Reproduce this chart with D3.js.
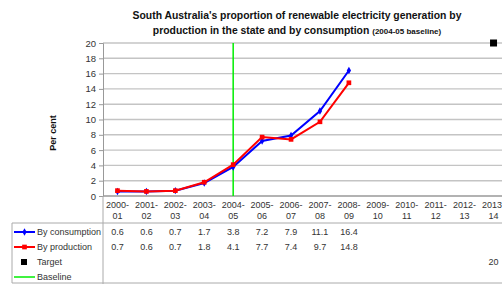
<!DOCTYPE html>
<html><head><meta charset="utf-8">
<script src="https://cdn.jsdelivr.net/npm/d3@7/dist/d3.min.js"></script>
<style>body{margin:0;background:#fff;overflow:hidden;}svg{display:block;font-family:"Liberation Sans",Arial,sans-serif;}</style>
</head><body><svg id="c" width="502" height="284"></svg>
<script>
const categories = ["2000-01","2001-02","2002-03","2003-04","2004-05","2005-06","2006-07","2007-08","2008-09","2009-10","2010-11","2011-12","2012-13","2013-14"];
const consumption = [0.6,0.6,0.7,1.7,3.8,7.2,7.9,11.1,16.4,null,null,null,null,null];
const production = [0.7,0.6,0.7,1.8,4.1,7.7,7.4,9.7,14.8,null,null,null,null,null];
const target = [null,null,null,null,null,null,null,null,null,null,null,null,null,20];
const baselineCategory = "2004-05";
const yTicks = [0,2,4,6,8,10,12,14,16,18,20];
const titleLine1 = "South Australia's proportion of renewable electricity generation by";
const titleLine2 = "production in the state and by consumption";
const titleSub = "(2004-05 baseline)";
const yLabel = "Per cent";

(function(){
const svg = d3.select("#c");
const pL = 103, pR = 508, pT = 43, pB = 196;
const x = d3.scaleBand().domain(categories).range([pL, pR]);
const y = d3.scaleLinear().domain([0, 20]).range([pB, pT]);
const cx = c => x(c) + x.bandwidth() / 2;
const txt = "#333";

// title
svg.append("text").attr("x", 297).attr("y", 19).attr("text-anchor","middle")
  .attr("font-size", 10.4).attr("font-weight","bold").attr("fill","#111").text(titleLine1);
const t2 = svg.append("text").attr("x", 297).attr("y", 34).attr("text-anchor","middle")
  .attr("font-weight","bold").attr("fill","#111");
t2.append("tspan").attr("font-size",10.4).text(titleLine2 + " ");
t2.append("tspan").attr("font-size",8).text(titleSub);

// gridlines
svg.append("g").selectAll("line").data(yTicks).join("line")
  .attr("x1", pL).attr("x2", pR).attr("y1", d => y(d)).attr("y2", d => y(d))
  .attr("stroke", d => d === 0 ? "#999" : "#c4c4c4").attr("stroke-width", 1.4);

// y axis
const ya = svg.append("g").attr("transform", `translate(${pL},0)`)
  .call(d3.axisLeft(y).tickValues(yTicks).tickSize(4).tickPadding(3));
ya.select(".domain").attr("stroke", "#999");
ya.selectAll(".tick line").attr("stroke", "#999");
ya.selectAll("text").attr("font-size", 9.5).attr("fill", txt).attr("font-family","Liberation Sans, Arial, sans-serif");

svg.append("text").attr("transform", `translate(56,133) rotate(-90)`).attr("text-anchor","middle")
  .attr("font-size", 9).attr("font-weight","bold").attr("fill","#111").text(yLabel);

// baseline
svg.append("line").attr("x1", cx(baselineCategory)).attr("x2", cx(baselineCategory))
  .attr("y1", pT).attr("y2", pB).attr("stroke", "#00ee00").attr("stroke-width", 1.5);

// lines
const line = d3.line().defined(d => d.v != null).x(d => cx(d.c)).y(d => y(d.v));
const seriesDefs = [
  {vals: consumption, color: "#0000ff", shape: d3.symbolDiamond, size: 16},
  {vals: production, color: "#ff0000", shape: d3.symbolSquare, size: 22}
];
seriesDefs.forEach(s => {
  const data = categories.map((c, i) => ({c, v: s.vals[i]}));
  svg.append("path").datum(data).attr("d", line).attr("fill","none")
    .attr("stroke", s.color).attr("stroke-width", 2);
  svg.append("g").selectAll("path").data(data.filter(d => d.v != null)).join("path")
    .attr("transform", d => `translate(${cx(d.c)},${y(d.v)})`)
    .attr("d", d3.symbol().type(s.shape).size(s.size)).attr("fill", s.color);
});
// target
svg.append("g").selectAll("rect").data(categories.map((c,i)=>({c, v: target[i]})).filter(d=>d.v!=null)).join("rect")
  .attr("x", d => cx(d.c) - 3.5).attr("y", d => y(d.v) - 3.5).attr("width", 7).attr("height", 7).attr("fill","#000");

// category labels
const cl = svg.append("g").selectAll("text").data(categories).join("text")
  .attr("x", d => cx(d)).attr("text-anchor","middle").attr("font-size", 9).attr("fill", txt);
cl.append("tspan").attr("x", d => cx(d)).attr("y", 208).text(d => d.split("-")[0] + "-");
cl.append("tspan").attr("x", d => cx(d)).attr("y", 219).text(d => d.split("-")[1]);

// table lines
const tl = "#aaa";
svg.append("line").attr("x1", 12).attr("x2", pR).attr("y1", 223).attr("y2", 223).attr("stroke", tl);
svg.append("line").attr("x1", 12).attr("x2", pR).attr("y1", 283).attr("y2", 283).attr("stroke", tl);
svg.append("line").attr("x1", 12).attr("x2", 12).attr("y1", 223).attr("y2", 283).attr("stroke", tl);
svg.append("line").attr("x1", pL).attr("x2", pL).attr("y1", pB).attr("y2", 284).attr("stroke", tl);

// table rows
const rows = [
  {name: "By consumption", vals: consumption, kind: "line", color: "#0000ff", shape: d3.symbolDiamond, size: 16},
  {name: "By production", vals: production, kind: "line", color: "#ff0000", shape: d3.symbolSquare, size: 22},
  {name: "Target", vals: target, kind: "marker", color: "#000"},
  {name: "Baseline", vals: categories.map(() => null), kind: "plain", color: "#00ee00"}
];
rows.forEach((r, i) => {
  const ry = 232 + i * 15;
  if (r.kind === "line" || r.kind === "plain") {
    svg.append("line").attr("x1", 14).attr("x2", 35).attr("y1", ry).attr("y2", ry)
      .attr("stroke", r.color).attr("stroke-width", r.kind === "plain" ? 1.5 : 2);
  }
  if (r.kind === "line") {
    svg.append("path").attr("transform", `translate(24.5,${ry})`)
      .attr("d", d3.symbol().type(r.shape).size(r.size)).attr("fill", r.color);
  }
  if (r.kind === "marker") {
    svg.append("rect").attr("x", 21).attr("y", ry - 3).attr("width", 6).attr("height", 6).attr("fill", "#000");
  }
  svg.append("text").attr("x", 37).attr("y", ry + 3.2).attr("font-size", 9).attr("fill", txt).text(r.name);
  svg.append("g").selectAll("text").data(categories.map((c, j) => ({c, v: r.vals[j]})).filter(d => d.v != null)).join("text")
    .attr("x", d => cx(d.c)).attr("y", ry + 3.2).attr("text-anchor","middle").attr("font-size", 9).attr("fill", txt)
    .text(d => Number.isInteger(d.v) ? String(d.v) : d3.format(".1f")(d.v));
});
})();
</script></body></html>
